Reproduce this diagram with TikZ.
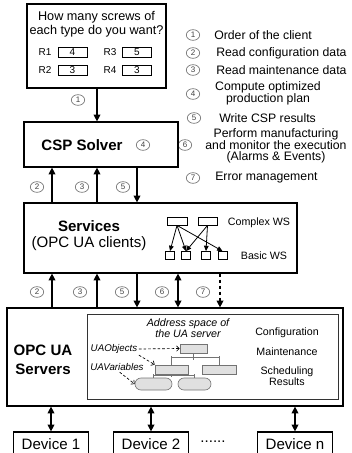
\documentclass[tikz,border=0pt]{standalone}
\usepackage{fontspec}
\setmainfont{Liberation Sans}
\usetikzlibrary{positioning, arrows.meta, calc, shapes.geometric}

\begin{document}
\begin{tikzpicture}[x=0.75pt, y=-0.75pt]
    % Define node styles
    \tikzstyle{box} = [draw, line width=0.9pt, inner sep=0pt]
    \tikzstyle{rbox} = [draw, line width=0.6pt, inner sep=0pt, minimum width=21.75pt, minimum height=7.5pt, font=\fontsize{7.5pt}{8pt}\selectfont]
    \tikzstyle{num} = [ellipse, draw=black!55, line width=0.5pt, minimum width=10pt, minimum height=8pt, inner sep=0pt, text=black!75, font=\fontsize{6pt}{6pt}\selectfont]
    \tikzstyle{legend} = [inner sep=0pt, font=\fontsize{9.2pt}{8.6pt}\selectfont]
    \tikzstyle{tiny} = [inner sep=0pt, font=\fontsize{7.5pt}{8pt}\selectfont]
    \tikzstyle{small} = [inner sep=0pt, font=\fontsize{8pt}{8pt}\selectfont]
    \tikzstyle{big} = [inner sep=0pt, font=\fontsize{11.3pt}{11.5pt}\selectfont]
    \tikzstyle{ws} = [draw, line width=0.6pt, inner sep=0pt, minimum height=6pt]
    \tikzstyle{tree} = [draw=black!55, fill=black!12, line width=0.5pt, inner sep=0pt, minimum height=6.75pt]
    \tikzstyle{arr} = [line width=0.9pt, -{Triangle[width=5pt,length=5pt]}]
    \tikzstyle{darr} = [line width=0.9pt, {Triangle[width=5pt,length=5pt]}-{Triangle[width=5pt,length=5pt]}]
    \tikzstyle{wsarr} = [line width=0.6pt, -{Triangle[width=3.5pt,length=4pt]}]
    \tikzstyle{uaarr} = [line width=0.5pt, dash pattern=on 2pt off 1.5pt, -{Straight Barb[length=2pt,width=4pt]}]
    \tikzstyle{tline} = [line width=0.5pt, draw=black!55]

    % Page
    \clip (0,0) rectangle (352,453);

    % Question box
    \node[box, minimum width=104.25pt, minimum height=63pt] (ask) at (96.5,46) {};
    \node[inner sep=0pt, align=center, font=\fontsize{9.5pt}{10.5pt}\selectfont] (question) at (96.5,24) {How many screws of\\each type do you want?};
    \node[tiny] (r1) at (45,52.5) {R1};
    \node[rbox] (r1val) at (72.5,52.5) {4};
    \node[tiny] (r3) at (110,52.5) {R3};
    \node[rbox] (r3val) at (137,52.5) {5};
    \node[tiny] (r2) at (45,70) {R2};
    \node[rbox] (r2val) at (72.5,70) {3};
    \node[tiny] (r4) at (110,70) {R4};
    \node[rbox] (r4val) at (137,70) {3};

    % Legend
    \node[num] (l1) at (193,35) {1};
    \node[legend, anchor=west] (t1) at (214,35) {Order of the client};
    \node[num] (l2) at (193,53) {2};
    \node[legend, anchor=west] (t2) at (216,53) {Read configuration data};
    \node[num] (l3) at (193,70) {3};
    \node[legend, anchor=west] (t3) at (216,70) {Read maintenance data};
    \node[num] (l4) at (193,94) {4};
    \node[legend, align=center] (t4) at (268,93.5) {Compute optimized\\production plan};
    \node[num] (l5) at (194,118) {5};
    \node[legend, anchor=west] (t5) at (219,118) {Write CSP results};
    \node[num] (l6) at (185,145) {6};
    \node[legend, align=center] (t6) at (276,146) {Perform manufacturing\\and monitor the execution\\(Alarms \& Events)};
    \node[num] (l7) at (193,178) {7};
    \node[legend, anchor=west] (t7) at (215,178) {Error management};

    % CSP solver
    \node[box, minimum width=115.5pt, minimum height=33.75pt] (csp) at (101,144.5) {};
    \node[big, font=\bfseries\fontsize{11.3pt}{11.5pt}\selectfont] (csptext) at (82,145) {CSP Solver};
    \node[num] (c4) at (143,145) {4};

    % Services
    \node[box, minimum width=204.75pt, minimum height=52.5pt] (services) at (160.5,238) {};
    \node[big, align=center] (servtext) at (89,235.5) {\textbf{Services}\\(OPC UA clients)};
    \node[ws, minimum width=15pt] (cws1) at (177,221) {};
    \node[ws, minimum width=14.25pt] (cws2) at (207.5,221) {};
    \node[ws, minimum width=6.75pt] (bws1) at (170,255.5) {};
    \node[ws, minimum width=6.75pt] (bws2) at (186,255.5) {};
    \node[ws, minimum width=6.75pt] (bws3) at (206,255.5) {};
    \node[ws, minimum width=6.75pt] (bws4) at (222.5,255.5) {};
    \node[small] (cwslabel) at (259,223) {Complex WS};
    \node[small] (bwslabel) at (264,256) {Basic WS};
    \draw[wsarr] (cws1.south) -- (bws1.north);
    \draw[wsarr] (cws1.south) -- (bws2.north);
    \draw[wsarr] (cws1.south) -- (bws4.north);
    \draw[wsarr] (cws2.south) -- (bws2.north);
    \draw[wsarr] (cws2.south) -- (bws3.north);

    % OPC UA servers
    \node[box, minimum width=252pt, minimum height=73.5pt] (opc) at (175,357) {};
    \node[big, align=center, font=\bfseries\fontsize{11.3pt}{14pt}\selectfont] (opctext) at (43,360) {OPC UA\\Servers};
    \node[draw=black!80, line width=0.6pt, minimum width=188.25pt, minimum height=63.75pt, inner sep=0pt] (addr) at (212.5,356.5) {};
    \node[small, align=center, font=\itshape\fontsize{8pt}{8.25pt}\selectfont] (addrtext) at (188,328.5) {Address space of\\the UA server};
    \node[small] (conf) at (287,333) {Configuration};
    \node[small] (maint) at (287,352) {Maintenance};
    \node[small, align=center] (sched) at (287,376) {Scheduling\\Results};

    % Address space tree
    \node[tree, minimum width=20.25pt] (ttop) at (193.5,348.5) {};
    \node[tree, minimum width=24.75pt] (tml) at (171.5,369.5) {};
    \node[tree, minimum width=25.5pt] (tmr) at (219,369.5) {};
    \node[tree, minimum width=27.75pt, minimum height=9pt, rounded corners=4.5pt] (tbl) at (153.5,384) {};
    \node[tree, minimum width=24.75pt, minimum height=9pt, rounded corners=4.5pt] (tbr) at (194.5,384) {};
    \draw[tline] (ttop.south) -- ++(0,7);
    \draw[tline] (tml.north) -- ++(0,-7) -| (tmr.north);
    \draw[tline] (tml.north) -- ++(0,-9);
    \draw[tline] (tmr.north) -- ++(0,-9);
    \draw[tline] (tml.south) -- ++(0,2.5);
    \draw[tline] (tbl.north) -- ++(0,-2) -| (tbr.north);
    \draw[tline] (tbl.north) -- ++(0,-4);
    \draw[tline] (tbr.north) -- ++(0,-4);

    \node[small, inner sep=1pt, font=\itshape\fontsize{7.3pt}{8pt}\selectfont] (uaobj) at (114,349) {UAObjects};
    \node[small, inner sep=1pt, font=\itshape\fontsize{7.3pt}{8pt}\selectfont] (uavar) at (117,367) {UAVariables};
    \draw[uaarr] (uaobj.east) -- (ttop.west);
    \draw[uaarr] (uaobj.south east) -- (tml.north west);
    \draw[uaarr] ([xshift=2pt]uavar.south) -- (tbl.west);

    % Devices
    \node[box, minimum width=56.25pt, minimum height=18pt, font=\fontsize{11.3pt}{12pt}\selectfont] (dev1) at (51,444) {Device 1};
    \node[box, minimum width=56.25pt, minimum height=18pt, font=\fontsize{11.3pt}{12pt}\selectfont] (dev2) at (151,444) {Device 2};
    \node[box, minimum width=56.25pt, minimum height=18pt, font=\fontsize{11.3pt}{12pt}\selectfont] (devn) at (295,444) {Device n};
    \node[big] (dots) at (213,442) {......};

    % Connector positions
    \coordinate (x2) at (52,0);
    \coordinate (x3) at (97,0);
    \coordinate (x5) at (137,0);
    \coordinate (x6) at (178,0);
    \coordinate (x7) at (220,0);

    % Question to CSP
    \draw[arr] (ask.south -| x3) -- (csp.north -| x3);
    \node[num] (n1) at (78,100) {1};

    % CSP and services
    \draw[arr] (services.north -| x2) -- (csp.south -| x2);
    \draw[arr] (services.north -| x3) -- (csp.south -| x3);
    \draw[arr] (csp.south -| x5) -- (services.north -| x5);
    \node[num] (a2) at (37,187) {2};
    \node[num] (a3) at (82,187) {3};
    \node[num] (a5) at (123,187) {5};

    % Services and servers
    \draw[arr] (opc.north -| x2) -- (services.south -| x2);
    \draw[arr] (opc.north -| x3) -- (services.south -| x3);
    \draw[arr] (services.south -| x5) -- (opc.north -| x5);
    \draw[darr] (services.south -| x6) -- (opc.north -| x6);
    \draw[arr, dash pattern=on 2.5pt off 2pt] (services.south -| x7) -- (opc.north -| x7);
    \node[num] (b2) at (37,292) {2};
    \node[num] (b3) at (80,292) {3};
    \node[num] (b5) at (122,292) {5};
    \node[num] (b6) at (162,292) {6};
    \node[num] (b7) at (203,292) {7};

    % Servers and devices
    \draw[darr] (opc.south -| dev1.north) -- (dev1.north);
    \draw[darr] (opc.south -| dev2.north) -- (dev2.north);
    \draw[darr] (opc.south -| devn.north) -- (devn.north);
\end{tikzpicture}
\end{document}
